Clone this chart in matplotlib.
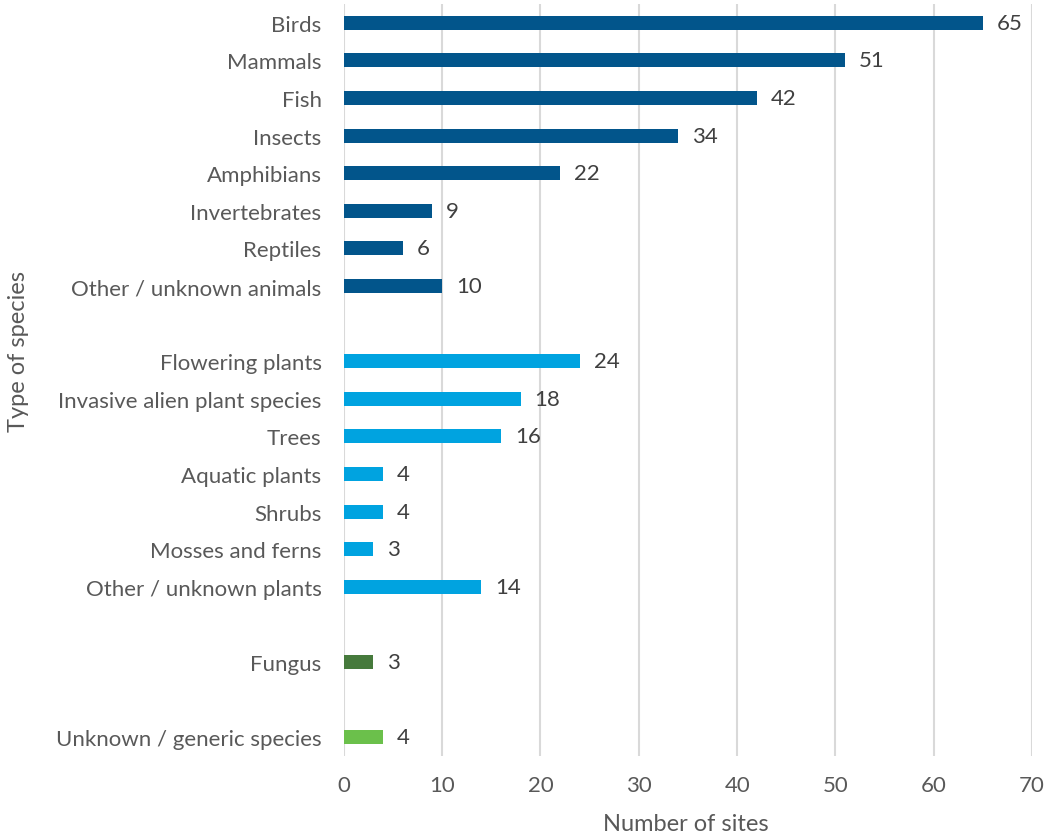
import matplotlib
matplotlib.use("Agg")
import matplotlib.pyplot as plt
import numpy as np

# categories from top to bottom; None marks an empty gap row
categories = ["Birds", "Mammals", "Fish", "Insects", "Amphibians", "Invertebrates",
              "Reptiles", "Other / unknown animals", None,
              "Flowering plants", "Invasive alien plant species", "Trees",
              "Aquatic plants", "Shrubs", "Mosses and ferns", "Other / unknown plants", None,
              "Fungus", None,
              "Unknown / generic species"]
values = [65, 51, 42, 34, 22, 9, 6, 10, None,
          24, 18, 16, 4, 4, 3, 14, None,
          3, None,
          4]
groups = ["animal"] * 8 + [None] + ["plant"] * 7 + [None] + ["fungus", None, "unknown"]

group_colors = {"animal": "#02558B", "plant": "#00A3E0",
                "fungus": "#467A3C", "unknown": "#6BC04B"}

plt.rcParams['font.family'] = ['Lato', 'DejaVu Sans']

fig = plt.figure(figsize=(10.45, 8.37), dpi=100)
ax = fig.add_axes([0.329, 0.0956, 0.6587, 0.8984])

ypos = np.arange(len(categories))
for y, v, g in zip(ypos, values, groups):
    if v is None:
        continue
    ax.barh(y, v, height=0.37, color=group_colors[g], zorder=3)
    ax.text(v + 1.4, y, str(v), va="center", ha="left", fontsize=16, color="#404040")

ax.set_yticks([y for y, c in zip(ypos, categories) if c is not None])
ax.set_yticklabels([c for c in categories if c is not None], fontsize=16, color="#595959")
ax.set_ylim(len(categories) - 0.5, -0.5)
ax.set_xlim(0, 70)
ax.set_xticks(range(0, 71, 10))
ax.tick_params(axis="x", labelsize=16, labelcolor="#595959", length=0, pad=14)
ax.tick_params(axis="y", length=0, pad=16)
ax.grid(axis="x", color="#D9D9D9", linewidth=1.5, zorder=0)
for s in ax.spines.values():
    s.set_visible(False)

fig.text(0.656, 1 - 825 / 837, "Number of sites", va="center", ha="center",
         fontsize=17, color="#595959")
fig.text(0.018, 1 - 352 / 837, "Type of species", rotation=90, va="center", ha="center",
         fontsize=17, color="#595959")

fig.savefig("out.png", dpi=100)
